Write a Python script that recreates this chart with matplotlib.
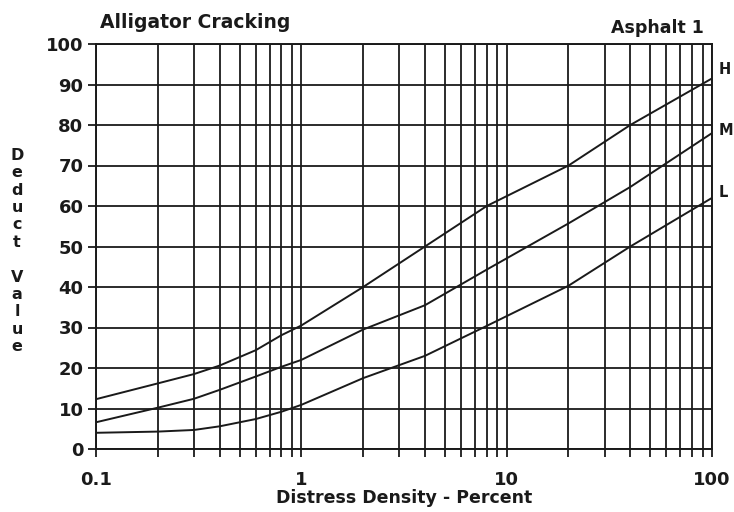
import numpy as np
import matplotlib
matplotlib.use("Agg")
import matplotlib.pyplot as plt
from matplotlib.ticker import FixedLocator, NullFormatter

# distress density (%) and deduct values
density = [0.1, 0.2, 0.3, 0.4, 0.6, 0.8, 1, 2, 4, 8, 20, 40, 100]
high    = [12.3, 16.2, 18.5, 20.6, 24.4, 28.1, 30.5, 40, 50, 60, 70, 80, 91.5]
medium  = [6.6, 10.2, 12.4, 14.6, 17.9, 20.3, 22, 29.5, 35.5, 44.3, 55.7, 64.7, 78]
low     = [4.0, 4.3, 4.7, 5.6, 7.4, 9.2, 10.9, 17.5, 23, 30.4, 40.3, 50, 62]
severity = ["H", "M", "L"]

y_ticks = list(range(0, 101, 10))
x_major = [0.1, 1, 10, 100]
x_labels = ["0.1", "1", "10", "100"]
x_grid = [m * d for d in (0.1, 1, 10) for m in range(1, 10)] + [100]

ink = "#1a1a1a"
plt.rcParams["font.family"] = ["DejaVu Sans"]
plt.rcParams["font.weight"] = "bold"

fig = plt.figure(figsize=(7.34, 5.12), dpi=100)
ax = fig.add_axes([96/734, 1-449/512, (712-96)/734, (449-44)/512])

for x in x_grid:
    ax.axvline(x, color=ink, lw=1.3, zorder=1)
for y in y_ticks:
    ax.axhline(y, color=ink, lw=1.3, zorder=1)

for vals in (high, medium, low):
    ax.plot(density, vals, color=ink, lw=1.4, zorder=3)

ax.set_xscale("log")
ax.set_xlim(0.1, 100)
ax.set_ylim(0, 100)
ax.xaxis.set_major_locator(FixedLocator(x_major))
ax.set_xticklabels(x_labels)
ax.xaxis.set_minor_locator(FixedLocator(x_grid))
ax.xaxis.set_minor_formatter(NullFormatter())
ax.set_yticks(y_ticks)
ax.tick_params(axis="both", which="both", direction="out", length=6, width=1.3,
               color=ink, labelsize=13, labelcolor=ink)
ax.tick_params(axis="x", which="major", pad=10)
ax.tick_params(axis="y", pad=3)
for s in ax.spines.values():
    s.set_color(ink)
    s.set_linewidth(1.4)

ax.set_xlabel("Distress Density - Percent", fontsize=12.5, fontweight="bold",
              color=ink, labelpad=0)

# stacked y label
fig.text(17/734, 1-251/512, "\n".join("Deduct") + "\n\n" + "\n".join("Value"),
         ha="center", va="center", fontsize=11.5, fontweight="bold", color=ink,
         linespacing=1.2)

fig.text(100/734, 1-22/512, "Alligator Cracking", fontsize=13.5,
         fontweight="bold", color=ink, ha="left", va="center")
fig.text(704/734, 1-28/512, "Asphalt 1", fontsize=12.5,
         fontweight="bold", color=ink, ha="right", va="center")

for lab, vals, dy in zip(severity, (high, medium, low), (8.5, 3, 5)):
    ax.annotate(lab, xy=(1, vals[-1]), xycoords=("axes fraction", "data"),
                xytext=(7, dy), textcoords="offset pixels", fontsize=10.5,
                fontweight="bold", color=ink, ha="left", va="center",
                annotation_clip=False)

fig.savefig("out.png", dpi=100)
